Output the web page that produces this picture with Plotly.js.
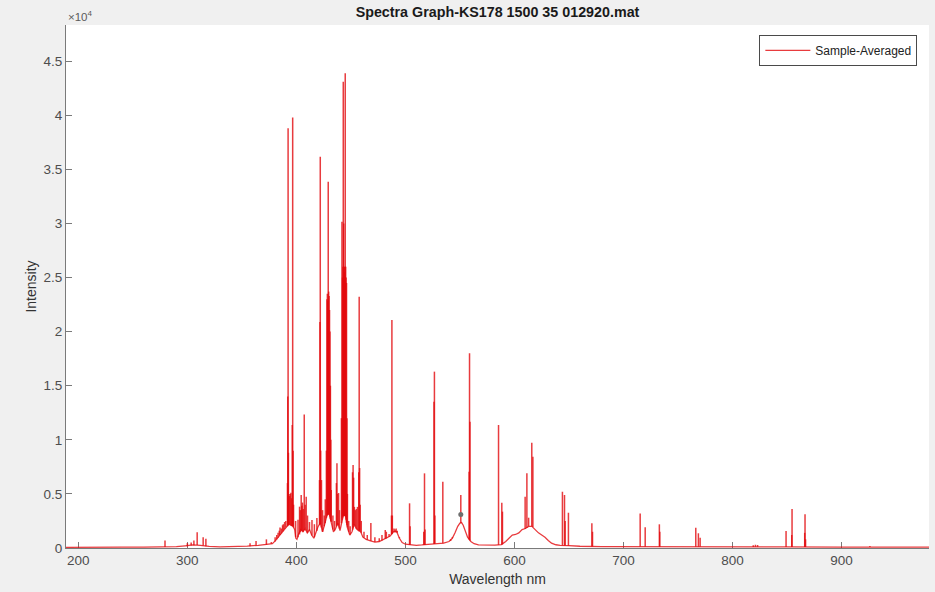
<!DOCTYPE html>
<html>
<head>
<meta charset="utf-8">
<script src="https://cdn.plot.ly/plotly-3.0.1.min.js"></script>
<style>
  html, body { margin: 0; padding: 0; background: #f0f0f0; }
  #chart { width: 935px; height: 592px; }
</style>
</head>
<body>
<div id="chart"></div>
<script>
// Smooth background (continuum) of the averaged spectrum: wavelength (nm) and intensity
const contWl = [188.7, 200, 220, 240, 260, 275, 290, 298, 305, 312, 320, 330, 345, 355, 365, 372, 378,
  381, 384, 387, 389.5, 391, 393, 395, 397, 398.5, 399.5, 400.5, 402, 404, 406, 408, 410, 412, 414,
  416, 418, 420, 422, 424, 426, 428, 430, 432, 434, 436, 438, 440, 441.5, 443, 445, 447, 449, 451,
  453, 455, 457, 459, 461, 464, 468, 472, 476, 480, 483, 486, 489, 492, 494.5, 497, 500, 505, 510,
  515, 520, 525, 530, 535, 540, 543, 545.5, 548, 550, 551.5, 553, 555, 557, 560, 563, 567, 575, 582,
  588, 592, 595, 598, 601, 604, 607, 610, 613, 616, 619, 622, 625, 628, 631, 634, 638, 642, 650, 660,
  680, 700, 750, 800, 850, 900, 950, 980.2];
const contInt = [60, 80, 70, 90, 80, 100, 120, 200, 280, 250, 150, 100, 120, 180, 250, 300, 400,
  700, 1100, 1500, 1800, 2000, 2200, 2100, 2000, 1700, 900, 800, 1300, 1700, 1500, 1800, 1400, 1700, 1200,
  900, 1400, 2000, 2300, 1500, 2200, 3000, 3200, 2400, 1500, 1800, 2300, 1600, 2500, 3000, 3000, 1800, 1200, 1500,
  2200, 1800, 1600, 1500, 1000, 800, 650, 550, 600, 800, 900, 1100, 1500, 1500, 900, 500, 350, 280, 250,
  280, 330, 380, 400, 450, 600, 900, 1400, 2000, 2300, 2350, 2100, 1500, 1000, 600, 400, 280, 250, 260,
  320, 600, 900, 1200, 1250, 1400, 1700, 1800, 2000, 2000, 1700, 1400, 1200, 1000, 700, 450, 300, 250, 220, 160,
  130, 120, 110, 100, 100, 90, 80, 80];

// Emission lines: centre wavelength (nm), peak intensity, and the intensity at the foot of the line
const lineWl = [279.5, 300.0, 303.5, 306.0, 309.0, 314.5, 317.0, 357.5, 363.0, 372.5, 377.0,
  380.5, 382.0, 383.2, 384.3, 385.0, 386.2, 387.3, 388.0, 389.2, 390.3,
  391.8, 392.1, 392.4, 392.7, 393.0, 393.6, 394.3, 395.0, 395.6, 396.2, 396.6, 397.0, 397.4, 399.3,
  401.5, 402.9, 403.6, 404.4, 405.0, 405.6, 406.3, 407.2, 408.0, 409.0, 410.2, 412.0, 414.3, 416.5, 418.8,
  421.2, 421.6, 421.9, 422.3, 423.0, 424.0, 425.5, 426.5, 427.5,
  428.0, 428.4, 428.8, 429.2, 429.6, 430.0, 430.4, 430.8, 431.2, 431.6, 432.0, 433.5, 435.0,
  436.7, 437.2, 437.7, 438.7, 439.5,
  441.3, 441.8, 442.3, 442.7, 443.0, 443.4, 443.8, 444.2, 444.6, 444.8, 445.2, 445.6, 446.0, 446.4, 446.8,
  448.0, 449.3, 451.5, 452.0, 452.5, 453.2, 454.0, 455.0, 456.0, 457.2, 457.6, 458.0, 458.5, 459.5,
  462.0, 465.0, 468.3, 472.0, 476.0, 478.5, 481.5, 482.5, 485.0, 487.2, 487.6, 488.0,
  489.5, 490.5, 491.5, 492.5, 494.5, 503.8, 504.3, 516.8, 517.5, 518.0, 526.2, 526.6, 527.0, 534.3,
  541.5, 543.0, 550.8, 558.4, 558.8, 559.2, 585.4, 588.4, 589.0,
  609.8, 611.4, 613.0, 615.9, 616.9, 644.0, 645.9, 646.5, 649.5, 671.0, 671.6,
  715.3, 719.9, 732.9, 733.3, 766.3, 768.7, 770.3, 819.0, 821.0, 823.0,
  849.1, 854.3, 854.6, 866.2, 866.5, 867.0, 926.0];
const linePeak = [700, 450, 500, 700, 1450, 1000, 850, 450, 650, 800, 550,
  1000, 1200, 1400, 1600, 1900, 1800, 2100, 2200, 2400, 2500,
  6000, 14000, 38800, 8800, 5000, 4800, 5000, 5100, 4600, 11370, 39800, 9000, 4000, 2500,
  2600, 3820, 3500, 4900, 3900, 4200, 3600, 12350, 4000, 4740, 3000, 2400, 2590, 2200, 2770,
  6280, 20900, 36160, 9000, 6280, 3500, 3000, 4500, 9000,
  23000, 23500, 22800, 33860, 23700, 23300, 22000, 20000, 15000, 10000, 5360, 3000, 2500,
  6000, 7830, 5000, 5080, 3500,
  12000, 30160, 25000, 26000, 43100, 30000, 26000, 25500, 26000, 43870, 26000, 25000, 24500, 12000, 5000,
  2500, 2000, 7000, 7670, 6500, 3800, 3500, 3600, 3800, 7000, 23230, 7390, 4000, 2500,
  1500, 1200, 2300, 1000, 900, 1200, 1660, 1500, 1300, 3000, 21070, 3000,
  1800, 1700, 1800, 1600, 1000, 4130, 2000, 1500, 6900, 1700, 13520, 16300, 3000, 6130,
  800, 1000, 4900, 7050, 18000, 11670, 11370, 4190, 3360,
  4740, 6900, 2800, 9730, 8440, 5200, 4900, 2500, 3260, 2280, 1500,
  3200, 1910, 2190, 1500, 1880, 1360, 950, 250, 300, 280,
  1570, 1200, 3600, 1400, 3110, 800, 180];
const lineFoot = [90, 150, 220, 260, 270, 230, 170, 170, 230, 300, 380,
  600, 800, 950, 1150, 1200, 1350, 1500, 1600, 1750, 1900,
  2000, 2050, 2100, 2150, 2200, 2200, 2150, 2100, 2050, 2050, 2000, 2000, 1900, 1000,
  1000, 1250, 1450, 1650, 1600, 1550, 1500, 1650, 1800, 1600, 1400, 1600, 1150, 1000, 1600,
  2150, 2200, 2250, 2200, 1900, 1500, 2000, 2300, 2800,
  3000, 3050, 3100, 3150, 3200, 3200, 3100, 2900, 2700, 2500, 2400, 1700, 1600,
  2000, 2100, 2200, 2100, 1800,
  2300, 2600, 2800, 2900, 3000, 3000, 3000, 3000, 3000, 3000, 2900, 2600, 2300, 2100, 1900,
  1500, 1250, 1700, 1900, 2100, 2150, 2000, 1800, 1700, 1650, 1600, 1580, 1550, 1400,
  950, 750, 650, 550, 600, 700, 850, 880, 1050, 1250, 1300, 1350,
  1500, 1500, 1500, 1400, 900, 300, 290, 290, 300, 310, 380, 385, 390, 440,
  650, 900, 2300, 800, 750, 700, 290, 320, 340,
  1750, 1850, 2000, 2000, 1950, 240, 235, 230, 220, 140, 140,
  115, 115, 112, 112, 105, 105, 105, 100, 100, 100,
  100, 100, 100, 95, 95, 95, 85];

// Data-tip marker placed on the 551 nm band
const tipWl = [550.8];
const tipInt = [3100];

// Axis ticks
const xTickVals = [200, 300, 400, 500, 600, 700, 800, 900];
const yTickVals = [0, 5000, 10000, 15000, 20000, 25000, 30000, 35000, 40000, 45000];
const yTickText = ['0', '0.5', '1', '1.5', '2', '2.5', '3', '3.5', '4', '4.5'];

// Each emission line is a vertical stroke from its foot to its peak
const segX = [], segY = [];
lineWl.forEach((w, i) => {
  segX.push(w, w, null);
  segY.push(lineFoot[i], linePeak[i], null);
});

const red = 'rgba(226, 10, 14, 0.8)';
const FONT = 'Liberation Sans, Arial, Helvetica, sans-serif';

const traces = [
  {
    x: contWl, y: contInt, type: 'scatter', mode: 'lines',
    name: 'Sample-Averaged',
    line: { color: red, width: 1.3 },
    hoverinfo: 'skip'
  },
  {
    x: segX, y: segY, type: 'scatter', mode: 'lines',
    showlegend: false, connectgaps: false,
    line: { color: red, width: 1.5 },
    hoverinfo: 'skip'
  },
  {
    x: tipWl, y: tipInt, type: 'scatter', mode: 'markers',
    showlegend: false,
    marker: { color: '#6e6e6e', size: 5 },
    hoverinfo: 'skip'
  }
];

const axisCommon = {
  showgrid: false, zeroline: false,
  showline: true, linecolor: '#7a7a7a', linewidth: 1,
  ticks: 'inside', ticklen: 6, tickwidth: 1, tickcolor: '#7a7a7a',
  tickfont: { family: FONT, size: 13.5, color: '#4d4d4d' },
  layer: 'below traces'
};

const layout = {
  width: 935, height: 592,
  paper_bgcolor: '#f0f0f0', plot_bgcolor: '#ffffff',
  margin: { l: 66, r: 6, t: 25, b: 44, pad: 0 },
  font: { family: FONT },
  title: {
    text: 'Spectra Graph-KS178 1500 35 012920.mat',
    font: { family: FONT, size: 14.3, color: '#1a1a1a', weight: 'bold' },
    x: 0.5, xref: 'paper', xanchor: 'center',
    y: 1 - 12 / 592, yref: 'container', yanchor: 'middle'
  },
  xaxis: Object.assign({}, axisCommon, {
    range: [188.7, 980.2],
    tickvals: xTickVals,
    title: { text: 'Wavelength nm', font: { family: FONT, size: 14, color: '#333333' }, standoff: 6 }
  }),
  yaxis: Object.assign({}, axisCommon, {
    range: [0, 48340],
    tickvals: yTickVals, ticktext: yTickText,
    title: { text: 'Intensity', font: { family: FONT, size: 14, color: '#333333' }, standoff: 3 }
  }),
  showlegend: true,
  legend: {
    x: 0.9865, xanchor: 'right', y: 0.981, yanchor: 'top',
    itemwidth: 45,
    bgcolor: '#ffffff', bordercolor: '#4a4a4a', borderwidth: 1,
    font: { family: FONT, size: 12, color: '#222222' }
  },
  annotations: [{
    text: '×10<sup>4</sup>', xref: 'paper', yref: 'paper', x: 0, y: 1,
    xanchor: 'left', yanchor: 'bottom', showarrow: false,
    font: { family: FONT, size: 11.5, color: '#5a5a5a' }
  }]
};

Plotly.newPlot('chart', traces, layout, { staticPlot: true, displayModeBar: false });
</script>
</body>
</html>
